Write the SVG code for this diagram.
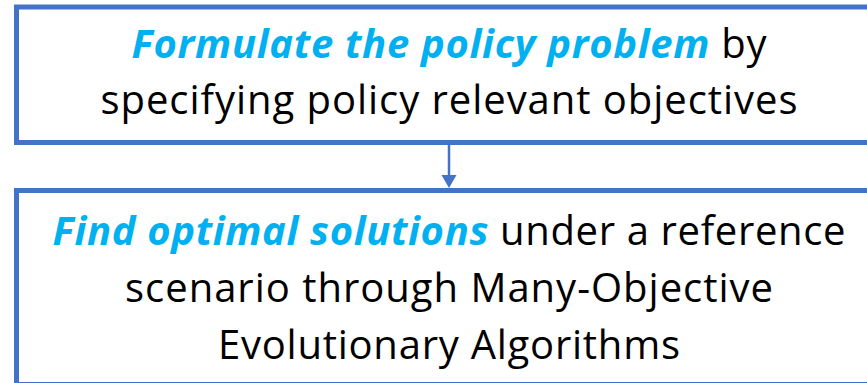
<svg xmlns="http://www.w3.org/2000/svg" width="867" height="383" viewBox="0 0 867 383">
  <style>
    .box { fill: #FFFFFF; stroke: #4472C4; stroke-width: 5; }
    .label { font-family: "Open Sans", Lato, "Liberation Sans", sans-serif; font-size: 40px; fill: #000000; text-anchor: middle; font-variant-ligatures: none; }
    .em { font-weight: bold; font-style: italic; fill: #00B0F0; }
    .link { stroke: #4472C4; stroke-width: 2.5; fill: none; }
    .head { fill: #4472C4; }
  </style>
  <rect width="867" height="383" fill="#FFFFFF"/>

  <g id="formulate">
    <rect class="box" x="16.5" y="7" width="870" height="135.5"/>
    <text class="label" x="449" y="58" textLength="635" lengthAdjust="spacing"><tspan class="em">Formulate the policy problem</tspan> by</text>
    <text class="label" x="449" y="114" textLength="697" lengthAdjust="spacing">specifying policy relevant objectives</text>
  </g>

  <g id="optimize">
    <rect class="box" x="16.5" y="190.5" width="870" height="194"/>
    <text class="label" x="449" y="245" textLength="793" lengthAdjust="spacing"><tspan class="em">Find optimal solutions</tspan> under a reference</text>
    <text class="label" x="449" y="302" textLength="648" lengthAdjust="spacing">scenario through Many-Objective</text>
    <text class="label" x="449" y="359" textLength="462" lengthAdjust="spacing">Evolutionary Algorithms</text>
  </g>

  <g id="connectors">
    <line class="link" x1="449" y1="145" x2="449" y2="177"/>
    <polygon class="head" points="441.5,175 456.5,175 449,188"/>
  </g>
</svg>
